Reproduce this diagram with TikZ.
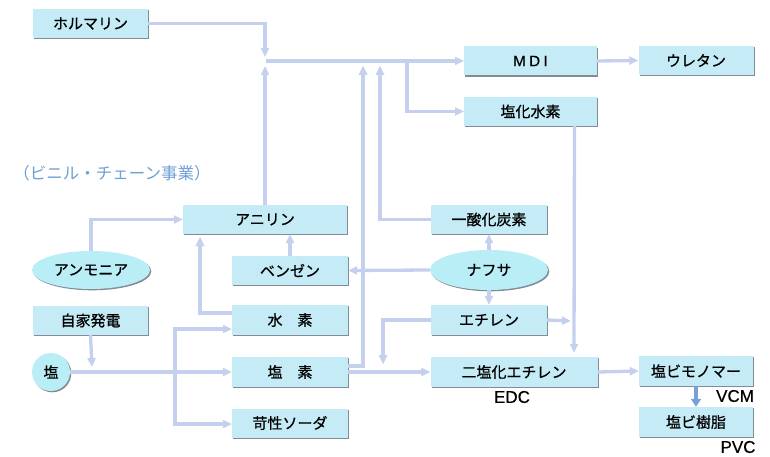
\documentclass[tikz,border=0pt]{standalone}
\usepackage{fontspec}
\newfontfamily\jp{Noto Sans CJK JP}[FakeBold=0.7]
\newfontfamily\jpl{Noto Sans CJK JP}
\newfontfamily\lat{Liberation Sans}[FakeBold=0.5]
\usetikzlibrary{arrows.meta,shapes.geometric,shadows,calc}
\definecolor{boxc}{RGB}{196,235,246}
\definecolor{ellc}{RGB}{186,238,247}
\definecolor{shc}{RGB}{128,140,152}
\definecolor{lnc}{RGB}{196,208,238}
\definecolor{chainc}{RGB}{110,160,212}
\definecolor{vcmarr}{RGB}{120,160,214}
\begin{document}
\begin{tikzpicture}[x=1pt,y=-1pt,
  box/.style={rectangle, fill=boxc, inner sep=0pt, minimum height=29pt,
    font=\jp\fontsize{15}{15}\selectfont, text=black,
    drop shadow={shadow xshift=1.3pt, shadow yshift=-1.3pt, fill=shc, opacity=1}},
  ell/.style={ellipse, fill=ellc, inner sep=0pt,
    font=\jp\fontsize{15}{15}\selectfont, text=black,
    drop shadow={shadow xshift=1.3pt, shadow yshift=-1.3pt, fill=shc, opacity=1}},
  arr/.style={draw=lnc, line width=3.3pt, line join=miter, -{Triangle[length=9pt,width=8pt]}},
  lab/.style={font=\lat\fontsize{17}{17}\selectfont, text=black, inner sep=0pt}]
\fill[white] (0,0) rectangle (770,457);
\useasboundingbox (0,0) rectangle (770,457);

% coordinates for connector ends
\coordinate (jtop) at (265,57);
\coordinate (jbot) at (265,66);
\coordinate (jr) at (266,61);
\coordinate (v363) at (363,66);
\coordinate (v380) at (380,66);
\coordinate (b407) at (407,61);
\coordinate (ee) at (571,321);
\coordinate (v383) at (383,364);
\coordinate (a200) at (200,237);
\coordinate (s175) at (175,372);
\coordinate (jk) at (92,367);

% connectors
\draw[arr] (jr) -- (464,61);
\draw[arr] (b407) |- (464,111.5);
\draw[arr] (jbot |- 0,205) -- (jbot);
\draw[arr] (363,366) -- (v363);
\draw[arr] (380,219.5) -- (v380);
\draw[arr] (383,320) -- (v383);
\draw[arr] (200,313) -- (a200);
\draw[arr] (s175) |- (232,329);
\draw[arr] (s175) |- (232,424);

% nodes
\node[box, minimum width=115pt] (horm) at (90.5,23.5) {ホルマリン};
\node[box, minimum width=133pt, font=\lat\fontsize{15}{15}\selectfont] (mdi) at (530.5,61) {M\hspace{3.5pt}D\hspace{3.5pt}I};
\node[box, minimum width=115pt] (uret) at (696,60.5) {ウレタン};
\node[box, minimum width=133pt] (hcl) at (530.5,111.5) {塩化水素};
\node[box, minimum width=164pt] (anil) at (265,219.5) {アニリン};
\node[box, minimum width=116pt] (co) at (489,219.5) {一酸化炭素};
\node[ell, minimum width=118pt, minimum height=38pt] (amm) at (91,270) {アンモニア};
\node[box, minimum width=116pt] (benz) at (290,270.5) {ベンゼン};
\node[ell, minimum width=118pt, minimum height=40pt] (naph) at (489,270) {ナフサ};
\node[box, minimum width=115pt] (jika) at (90.5,320.5) {自家発電};
\node[box, minimum width=116pt, minimum height=30pt] (h2) at (290,320) {水　素};
\node[box, minimum width=116pt, minimum height=30pt] (eth) at (489,320) {エチレン};
\node[circle, fill=ellc, inner sep=0pt, minimum size=38pt, font=\jp\fontsize{15}{15}\selectfont,
  drop shadow={shadow xshift=1.3pt, shadow yshift=-1.3pt, fill=shc, opacity=1}] (salt) at (51,372) {塩};
\node[box, minimum width=116pt, minimum height=30pt] (cl2) at (290,372) {塩　素};
\node[box, minimum width=167pt, minimum height=30pt] (edc) at (514,372) {二塩化エチレン};
\node[box, minimum width=114pt, minimum height=30pt] (vcm) at (696,371) {塩ビモノマー};
\node[box, minimum width=114pt, minimum height=30pt] (pvc) at (696,422) {塩ビ樹脂};
\node[box, minimum width=116pt] (soda) at (290,423) {苛性ソーダ};

% labels
\node[font=\jpl\fontsize{16.5}{16.5}\selectfont, text=chainc, inner sep=0pt] (chain) at (112,173) {（ビニル・チェーン事業）};
\node[lab] (edcl) at (512,397) {EDC};
\node[lab] (vcml) at (735,396) {VCM};
\node[lab] (pvcl) at (738,447) {PVC};

% connectors from node anchors
\draw[arr] (horm.east) -| (jtop);
\draw[arr] ([yshift=6pt]cl2.east) -| (v363);
\draw[arr] (co.west) -| (v380);
\draw[arr] (eth.west) -| (v383);
\draw[arr] ([yshift=7pt]h2.west) -| (a200);
\draw[arr] ([xshift=44pt]hcl.south) -- ([xshift=60pt,yshift=4pt]edc.north);
\draw[arr] (eth.east) -- (ee);
\draw[arr] (cl2.east) -- (edc.west);
\draw[arr] (naph.north) -- (co.south);
\draw[arr] (naph.south) -- (eth.north);
\draw[arr] (benz.north) -- (benz.north |- anil.south);
\draw[arr] (salt.east) -- (cl2.west);
\draw[arr] (jika.south) -- (jk);
\draw[arr] (amm.north) |- (anil.west);
\draw[arr] (naph.west) -- (benz.east);
\draw[arr] (mdi.east) -- (uret.west);
\draw[arr] (edc.east) -- (vcm.west);
\draw[draw=vcmarr, line width=4pt, -{Triangle[length=8pt,width=10pt]}] (vcm.south) -- (pvc.north);
\end{tikzpicture}
\end{document}
